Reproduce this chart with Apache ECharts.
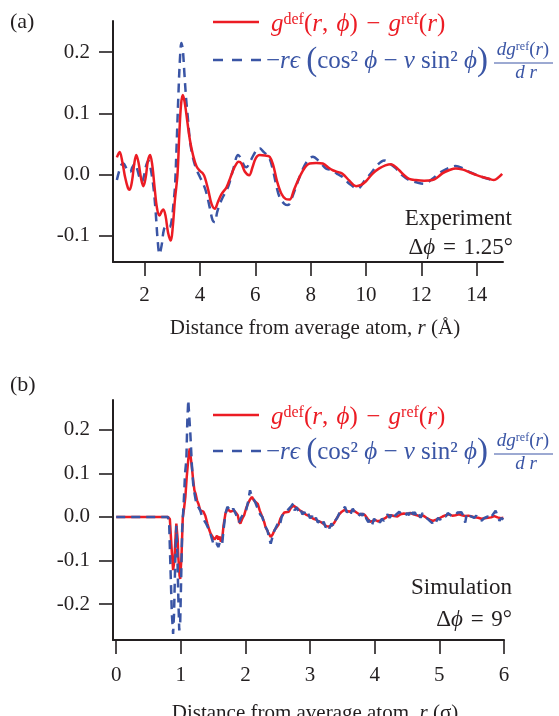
<!DOCTYPE html>
<html>
<head>
<meta charset="utf-8">
<script src="https://cdn.jsdelivr.net/npm/echarts@6/dist/echarts.min.js"></script>
<style>
  html, body { margin: 0; padding: 0; background: #ffffff; }
  #chart { width: 559px; height: 716px; }
</style>
</head>
<body>
<div id="chart"></div>
<script>
// Tick positions
const xExpTicks = [2, 4, 6, 8, 10, 12, 14];
const yExpTicks = [-0.1, 0, 0.1, 0.2];
const xSimTicks = [0, 1, 2, 3, 4, 5, 6];
const ySimTicks = [-0.2, -0.1, 0, 0.1, 0.2];

// (a) Experiment: g_def(r,phi) - g_ref(r), r in Angstrom
const expDiff = [
  [1.0, 0.028], [1.1, 0.037], [1.2, 0.020], [1.3, -0.005], [1.4, -0.022], [1.46, -0.025],
  [1.55, -0.010], [1.62, 0.015], [1.70, 0.032], [1.78, 0.020], [1.88, -0.008], [1.96, -0.019],
  [2.04, -0.005], [2.12, 0.022], [2.2, 0.032], [2.28, 0.015], [2.36, -0.020], [2.45, -0.055],
  [2.54, -0.067], [2.62, -0.060], [2.68, -0.057], [2.76, -0.068], [2.85, -0.095], [2.95, -0.108],
  [3.02, -0.085], [3.1, -0.040], [3.19, 0.0], [3.26, 0.070], [3.32, 0.115], [3.38, 0.130],
  [3.45, 0.118], [3.55, 0.085], [3.64, 0.056], [3.76, 0.030], [3.88, 0.013], [4.0, 0.006],
  [4.1, 0.002], [4.18, -0.005], [4.3, -0.025], [4.42, -0.048], [4.54, -0.056], [4.65, -0.045],
  [4.78, -0.032], [4.96, -0.021], [5.1, -0.005], [5.25, 0.012], [5.4, 0.021], [5.5, 0.018],
  [5.62, 0.005], [5.78, -0.001], [5.9, 0.012], [6.02, 0.027], [6.16, 0.032], [6.35, 0.031],
  [6.52, 0.029], [6.65, 0.015], [6.78, -0.010], [6.94, -0.031], [7.1, -0.040], [7.24, -0.041],
  [7.4, -0.025], [7.6, -0.004], [7.8, 0.012], [7.96, 0.018], [8.2, 0.019], [8.44, 0.018],
  [8.65, 0.011], [8.8, 0.007], [9.0, 0.004], [9.16, 0.001], [9.4, -0.010], [9.64, -0.019],
  [9.82, -0.017], [10.0, -0.011], [10.25, 0.002], [10.48, 0.010], [10.7, 0.015], [10.9, 0.017],
  [11.05, 0.013], [11.2, 0.007], [11.4, -0.002], [11.56, -0.007], [11.8, -0.009], [12.1, -0.010],
  [12.4, -0.009], [12.6, -0.004], [12.76, 0.002], [13.0, 0.007], [13.24, 0.010], [13.5, 0.008],
  [13.72, 0.004], [14.0, -0.001], [14.2, -0.004], [14.45, -0.007], [14.62, -0.009], [14.78, -0.005],
  [14.92, 0.001]
];

// (a) Experiment: -r eps (cos^2 phi - nu sin^2 phi) dg_ref/dr
const expModel = [
  [1.0, -0.009], [1.08, 0.005], [1.16, 0.016], [1.24, 0.018], [1.32, 0.012], [1.40, 0.005],
  [1.48, 0.004], [1.56, 0.012], [1.66, 0.018], [1.74, 0.008], [1.82, -0.005], [1.90, -0.012],
  [1.98, -0.002], [2.06, 0.015], [2.14, 0.023], [2.22, 0.010], [2.32, -0.020], [2.40, -0.060],
  [2.47, -0.105], [2.54, -0.130], [2.62, -0.115], [2.70, -0.090], [2.80, -0.084], [2.90, -0.086],
  [2.98, -0.075], [3.05, -0.045], [3.10, -0.020], [3.16, 0.050], [3.22, 0.127], [3.28, 0.190],
  [3.33, 0.215], [3.38, 0.205], [3.44, 0.165], [3.50, 0.125], [3.56, 0.095], [3.64, 0.055],
  [3.74, 0.029], [3.86, 0.010], [4.0, -0.004], [4.12, -0.015], [4.24, -0.031], [4.36, -0.055],
  [4.46, -0.075], [4.54, -0.078], [4.62, -0.062], [4.72, -0.048], [4.85, -0.035], [5.02, -0.020],
  [5.2, 0.008], [5.38, 0.032], [5.5, 0.025], [5.6, 0.014], [5.68, 0.012], [5.8, 0.020],
  [5.95, 0.033], [6.08, 0.042], [6.16, 0.043], [6.3, 0.037], [6.5, 0.028], [6.65, 0.005],
  [6.78, -0.022], [6.88, -0.037], [7.05, -0.048], [7.18, -0.050], [7.35, -0.035], [7.6, -0.004],
  [7.85, 0.020], [8.08, 0.029], [8.3, 0.022], [8.55, 0.010], [8.78, 0.007], [9.0, 0.0],
  [9.16, -0.004], [9.4, -0.015], [9.7, -0.023], [9.95, -0.010], [10.18, 0.002], [10.4, 0.015],
  [10.66, 0.023], [10.85, 0.018], [11.08, 0.010], [11.3, -0.001], [11.56, -0.009], [11.85, -0.013],
  [12.1, -0.015], [12.4, -0.007], [12.64, 0.002], [12.9, 0.009], [13.24, 0.014], [13.5, 0.010],
  [13.8, 0.003], [13.96, 0.000], [14.2, -0.004], [14.4, -0.007], [14.56, -0.009]
];

// (b) Simulation: g_def(r,phi) - g_ref(r), r in sigma
const simDiff = [
  [0.0, 0], [0.80, 0], [0.83, -0.005], [0.86, -0.08], [0.88, -0.122], [0.90, -0.10],
  [0.92, -0.04], [0.93, -0.015], [0.95, -0.05], [0.96, -0.09], [0.98, -0.135], [0.99, -0.142],
  [1.01, -0.09], [1.03, 0.0], [1.05, 0.02], [1.07, 0.046], [1.09, 0.09], [1.105, 0.115],
  [1.12, 0.14], [1.137, 0.157], [1.15, 0.14], [1.17, 0.115], [1.19, 0.085], [1.21, 0.061],
  [1.23, 0.052], [1.25, 0.038], [1.27, 0.031], [1.30, 0.015], [1.33, 0.013], [1.35, 0.012],
  [1.38, 0.002], [1.41, -0.015], [1.44, -0.030], [1.46, -0.038], [1.49, -0.045], [1.52, -0.052],
  [1.54, -0.048], [1.56, -0.043], [1.58, -0.052], [1.60, -0.045], [1.62, -0.057], [1.64, -0.050],
  [1.66, -0.02], [1.69, 0.008], [1.72, 0.018], [1.74, 0.019], [1.77, 0.012], [1.80, 0.016],
  [1.82, 0.015], [1.85, 0.010], [1.88, 0.004], [1.90, -0.010], [1.92, -0.015], [1.95, -0.004],
  [1.98, 0.004], [2.01, 0.020], [2.04, 0.031], [2.07, 0.040], [2.10, 0.046], [2.13, 0.038],
  [2.16, 0.040], [2.19, 0.030], [2.22, 0.015], [2.26, 0.000], [2.29, -0.012], [2.31, -0.023],
  [2.35, -0.035], [2.39, -0.046], [2.42, -0.040], [2.45, -0.030], [2.48, -0.024], [2.51, -0.018],
  [2.54, -0.004], [2.57, 0.004], [2.60, 0.010], [2.63, 0.008], [2.67, 0.012], [2.70, 0.020],
  [2.74, 0.026], [2.77, 0.022], [2.81, 0.019], [2.85, 0.014], [2.89, 0.010], [2.93, 0.006],
  [2.97, 0.003], [3.01, 0.0], [3.05, -0.004], [3.09, -0.006], [3.13, -0.010], [3.17, -0.012],
  [3.21, -0.016], [3.25, -0.021], [3.29, -0.022], [3.33, -0.020], [3.37, -0.014], [3.41, -0.004],
  [3.45, 0.006], [3.49, 0.012], [3.53, 0.016], [3.57, 0.014], [3.61, 0.012], [3.65, 0.015],
  [3.69, 0.013], [3.73, 0.009], [3.77, 0.005], [3.81, 0.007], [3.85, 0.004], [3.89, -0.004],
  [3.93, -0.011], [3.97, -0.009], [4.01, -0.007], [4.05, -0.010], [4.09, -0.008], [4.13, -0.005],
  [4.17, -0.002], [4.21, 0.004], [4.25, 0.004], [4.30, 0.002], [4.35, 0.001], [4.40, 0.006],
  [4.45, 0.008], [4.50, 0.007], [4.55, 0.009], [4.60, 0.006], [4.65, 0.004], [4.70, 0.001],
  [4.75, 0.003], [4.80, -0.002], [4.85, -0.006], [4.90, -0.009], [4.95, -0.006], [5.00, -0.003],
  [5.05, 0.001], [5.10, 0.004], [5.15, 0.006], [5.20, 0.003], [5.25, 0.004], [5.30, 0.006],
  [5.35, 0.004], [5.40, 0.002], [5.45, 0.003], [5.50, 0.001], [5.55, -0.001], [5.60, -0.002],
  [5.65, -0.004], [5.70, -0.003], [5.75, -0.002], [5.80, -0.001], [5.85, 0.002], [5.90, -0.001],
  [5.95, -0.003], [5.99, -0.002]
];

// (b) Simulation: -r eps (cos^2 phi - nu sin^2 phi) dg_ref/dr
const simModel = [
  [0.0, 0], [0.80, 0], [0.82, -0.02], [0.84, -0.12], [0.86, -0.22], [0.88, -0.268],
  [0.895, -0.22], [0.91, -0.12], [0.93, -0.02], [0.945, -0.08], [0.96, -0.18], [0.975, -0.26],
  [0.99, -0.24], [1.005, -0.14], [1.02, -0.03], [1.035, 0.008], [1.05, 0.05], [1.065, 0.10],
  [1.085, 0.13], [1.10, 0.22], [1.115, 0.268], [1.13, 0.23], [1.147, 0.19], [1.17, 0.12],
  [1.19, 0.077], [1.21, 0.055], [1.23, 0.038], [1.26, 0.025], [1.30, 0.015], [1.33, 0.0],
  [1.36, -0.008], [1.39, -0.015], [1.42, -0.025], [1.46, -0.040], [1.49, -0.055], [1.51, -0.065],
  [1.55, -0.060], [1.58, -0.069], [1.61, -0.055], [1.64, -0.061], [1.66, -0.030], [1.69, 0.008],
  [1.72, 0.023], [1.75, 0.020], [1.78, 0.012], [1.81, 0.019], [1.84, 0.010], [1.87, 0.000],
  [1.90, -0.012], [1.93, -0.002], [1.96, 0.005], [1.99, 0.010], [2.01, 0.015], [2.04, 0.035],
  [2.07, 0.061], [2.10, 0.046], [2.13, 0.040], [2.16, 0.030], [2.20, 0.015], [2.23, 0.005],
  [2.26, 0.000], [2.30, -0.020], [2.34, -0.031], [2.37, -0.050], [2.39, -0.061], [2.42, -0.045],
  [2.44, -0.034], [2.47, -0.031], [2.50, -0.015], [2.53, -0.020], [2.56, 0.000], [2.59, 0.008],
  [2.62, 0.004], [2.65, 0.015], [2.68, 0.011], [2.71, 0.025], [2.74, 0.031], [2.76, 0.015],
  [2.79, 0.022], [2.82, 0.012], [2.85, 0.019], [2.88, 0.006], [2.91, 0.011], [2.94, 0.002],
  [2.97, 0.008], [3.00, -0.003], [3.03, 0.002], [3.06, -0.008], [3.09, -0.002], [3.12, -0.013],
  [3.15, -0.008], [3.18, -0.018], [3.21, -0.011], [3.24, -0.024], [3.27, -0.018], [3.30, -0.026],
  [3.33, -0.015], [3.36, -0.021], [3.39, -0.008], [3.42, -0.002], [3.45, 0.008], [3.48, 0.004],
  [3.51, 0.018], [3.54, 0.023], [3.57, 0.010], [3.60, 0.016], [3.63, 0.008], [3.66, 0.019],
  [3.69, 0.011], [3.72, 0.015], [3.75, 0.002], [3.78, 0.008], [3.81, 0.003], [3.84, 0.011],
  [3.87, -0.004], [3.90, -0.012], [3.93, -0.006], [3.96, -0.018], [3.99, -0.004], [4.02, -0.011],
  [4.05, -0.006], [4.08, -0.013], [4.11, -0.004], [4.14, -0.009], [4.17, 0.001], [4.20, 0.006],
  [4.23, -0.002], [4.26, 0.005], [4.29, -0.003], [4.32, 0.004], [4.35, 0.000], [4.38, 0.012],
  [4.41, 0.006], [4.44, 0.010], [4.47, 0.002], [4.50, 0.009], [4.53, 0.004], [4.56, 0.018],
  [4.59, 0.006], [4.62, 0.011], [4.65, 0.000], [4.68, 0.007], [4.71, -0.002], [4.74, 0.009],
  [4.77, 0.002], [4.80, 0.004], [4.83, -0.006], [4.86, -0.010], [4.89, -0.014], [4.92, -0.006],
  [4.95, -0.011], [4.98, -0.002], [5.01, -0.007], [5.04, 0.002], [5.07, 0.006], [5.10, 0.001],
  [5.13, 0.009], [5.16, 0.005], [5.19, 0.002], [5.22, -0.002], [5.25, 0.004], [5.28, 0.010],
  [5.31, 0.007], [5.34, 0.011], [5.37, 0.003], [5.40, -0.013], [5.42, 0.004], [5.45, 0.009],
  [5.48, 0.002], [5.51, 0.001], [5.54, -0.002], [5.57, 0.003], [5.60, -0.006], [5.63, -0.002],
  [5.66, -0.008], [5.69, -0.003], [5.72, -0.005], [5.75, 0.001], [5.78, -0.004], [5.81, 0.002],
  [5.84, 0.006], [5.87, 0.014], [5.90, 0.003], [5.93, -0.009], [5.96, -0.002], [5.99, -0.006]
];

const SERIF = '"Liberation Serif", "DejaVu Serif", serif';
const INK = '#231f20';
const RED = '#ec1c24';
const BLUE = '#3a55a5';

function font(size, italic) {
  return (italic ? 'italic ' : '') + size + 'px ' + SERIF;
}
function richSet(color, size) {
  return {
    n: { font: font(size), fill: color },
    i: { font: font(size, true), fill: color },
    sup: { font: font(Math.round(size * 0.64)), fill: color, verticalAlign: 'top' },
    bg: { font: font(Math.round(size * 1.3)), fill: color }
  };
}
function richText(x, y, text, color, size, align) {
  return {
    type: 'text', x: x, y: y, z: 10,
    style: {
      text: text, rich: richSet(color, size), font: font(size), fill: color,
      align: align || 'left', verticalAlign: 'middle',
      textAlign: align || 'left', textVerticalAlign: 'middle'
    }
  };
}
function hLine(x1, x2, y, color, width, dash) {
  return {
    type: 'line', z: 10,
    shape: { x1: x1, y1: y, x2: x2, y2: y },
    style: { stroke: color, lineWidth: width, lineDash: dash || null }
  };
}

// Legend block: solid red sample + formula, dashed blue sample + formula with a fraction
const SP = '\u2004';
function legendBlock(y1, y2) {
  return [
    hLine(213, 259, y1, RED, 2.5),
    richText(271, y1 + 2,
      '{i|g}{sup|def}{n|(}{i|r}{n|,' + SP + '}{i|ϕ}{n|)' + SP + '−' + SP + '}{i|g}{sup|ref}{n|(}{i|r}{n|)}',
      RED, 25),
    hLine(213, 261, y2, BLUE, 2.5, [10, 9]),
    richText(266, y2 + 1,
      '{n|−}{i|rϵ}{n| }{bg|(}{n|cos²}{i| ϕ}{n| − }{i|ν}{n| sin²}{i| ϕ}{bg|)}',
      BLUE, 25),
    richText(523, y2 - 10, '{i|dg}{sup|ref}{n|(}{i|r}{n|)}', BLUE, 19, 'center'),
    hLine(494, 553, y2 + 3, BLUE, 1),
    richText(526, y2 + 13, '{i|d r}', BLUE, 19, 'center')
  ];
}

function xAxisCfg(gridIndex, min, max, ticks, margin) {
  return {
    type: 'value', gridIndex: gridIndex, min: min, max: max,
    axisLine: { onZero: false, lineStyle: { color: INK, width: 2 } },
    axisTick: { customValues: ticks, length: 14, lineStyle: { color: INK, width: 1.6 } },
    axisLabel: {
      customValues: ticks, margin: margin, verticalAlign: 'middle',
      fontFamily: SERIF, fontSize: 21, color: INK
    },
    splitLine: { show: false }
  };
}
function yAxisCfg(gridIndex, min, max, ticks) {
  return {
    type: 'value', gridIndex: gridIndex, min: min, max: max,
    axisLine: { onZero: false, lineStyle: { color: INK, width: 2 } },
    axisTick: { customValues: ticks, length: 14, lineStyle: { color: INK, width: 1.6 } },
    axisLabel: {
      customValues: ticks, margin: 23, fontFamily: SERIF, fontSize: 21, color: INK,
      formatter: function (v) { return v.toFixed(1); }
    },
    splitLine: { show: false }
  };
}
function lineSeries(data, xi, color, dashed, smooth) {
  return {
    type: 'line', xAxisIndex: xi, yAxisIndex: xi, data: data,
    symbol: 'none', smooth: smooth, clip: true,
    lineStyle: { color: color, width: 2.5, type: dashed ? [9, 6] : 'solid' }
  };
}

const chart = echarts.init(document.getElementById('chart'), null, { renderer: 'canvas' });
chart.setOption({
  animation: false,
  backgroundColor: '#ffffff',
  grid: [
    { left: 113, top: 21, width: 390, height: 241 },
    { left: 113, top: 400, width: 391, height: 240 }
  ],
  xAxis: [
    xAxisCfg(0, 0.86, 14.95, xExpTicks, 33),
    xAxisCfg(1, -0.05, 6.0, xSimTicks, 35)
  ],
  yAxis: [
    yAxisCfg(0, -0.143, 0.251, yExpTicks),
    yAxisCfg(1, -0.282, 0.268, ySimTicks)
  ],
  series: [
    lineSeries(expModel, 0, BLUE, true, 0.35),
    lineSeries(expDiff, 0, RED, false, 0.35),
    lineSeries(simDiff, 1, RED, false, false),
    lineSeries(simModel, 1, BLUE, true, false)
  ],
  graphic: [
    richText(10, 22, '{n|(a)}', INK, 22),
    richText(10, 385, '{n|(b)}', INK, 22)
  ].concat(legendBlock(22, 60), legendBlock(415, 451), [
    richText(512, 219, '{n|Experiment}', INK, 23, 'right'),
    richText(513, 248, '{n|Δ}{i|ϕ}{n|' + SP + '=' + SP + '1.25°}', INK, 23, 'right'),
    richText(512, 588, '{n|Simulation}', INK, 23, 'right'),
    richText(512, 620, '{n|Δ}{i|ϕ}{n|' + SP + '=' + SP + '9°}', INK, 23, 'right'),
    richText(315, 328, '{n|Distance from average atom, }{i|r}{n| (Å)}', INK, 21, 'center'),
    richText(315, 713, '{n|Distance from average atom, }{i|r}{n| (σ)}', INK, 21, 'center')
  ])
});
</script>
</body>
</html>
